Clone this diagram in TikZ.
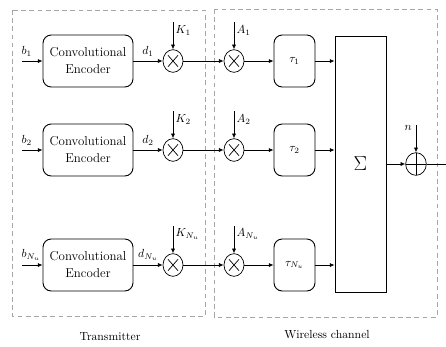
\documentclass[tikz,border=0pt]{standalone}
\usepackage{amsmath}
\usepackage{tikz}
\usetikzlibrary{positioning, arrows.meta, calc, shapes.geometric}

\begin{document}
\begin{tikzpicture}[>={Latex[length=4pt,width=3.5pt]}, semithick,
    enc/.style={draw, thick, rounded corners=7pt, minimum width=2.7cm, minimum height=1.56cm, align=center, font=\fontsize{11}{14.5}\selectfont},
    mult/.style={ellipse, draw, minimum width=0.6cm, minimum height=0.68cm, inner sep=0pt,
      path picture={\draw ($(path picture bounding box.north west)!0.25!(path picture bounding box.south east)$) -- ($(path picture bounding box.north west)!0.75!(path picture bounding box.south east)$)
        ($(path picture bounding box.north east)!0.25!(path picture bounding box.south west)$) -- ($(path picture bounding box.north east)!0.75!(path picture bounding box.south west)$);}},
    adder/.style={ellipse, draw, minimum width=0.62cm, minimum height=0.68cm, inner sep=0pt,
      path picture={\draw (path picture bounding box.north) -- (path picture bounding box.south)
        (path picture bounding box.west) -- (path picture bounding box.east);}},
    del/.style={draw, thick, rounded corners=7pt, minimum width=1.23cm, minimum height=1.56cm},
    frame/.style={draw, dash pattern=on 4pt off 3pt, gray!70, thick}]
  \useasboundingbox (0,0) rectangle (13.38,-10.38);

  % dashed frames
  \draw[frame] (0.36,-0.30) rectangle (6.15,-9.48);
  \draw[frame] (6.42,-0.27) rectangle (13.11,-9.51);
  \node (tx) at (3.3,-10.1) {Transmitter};
  \node (ch) at (9.81,-10.05) {Wireless channel};

  % sum and noise
  \node[draw, thick, minimum width=1.53cm, minimum height=7.68cm] (sum) at (10.815,-4.92) {\LARGE $\Sigma$};
  \node[adder] (add) at (12.48,-4.92) {};
  \coordinate (nin) at (12.48,-3.75);
  \coordinate (out) at (13.38,-4.92);
  \draw[->] (sum.east |- add) -- (add);
  \draw (add) -- (out);
  \draw[->] (nin) -- (add);
  \node[left] at ($(nin)+(0,-0.1)$) {$n$};

  % branches
  \foreach \i/\y/\s in {1/-1.83/1, 2/-4.5/2, 3/-7.95/{N_u}} {
    \coordinate (in\i) at (0.66,\y);
    \node[enc] (enc\i) at (2.64,\y) {Convolutional\\Encoder};
    \node[mult] (k\i) at (5.19,\y) {};
    \node[mult] (a\i) at (7.02,\y) {};
    \node[del] (tau\i) at (8.835,\y) {$\tau_{\s}$};
    \coordinate (ktop\i) at ($(k\i)+(0,1.17)$);
    \coordinate (atop\i) at ($(a\i)+(0,1.17)$);
    \draw[->] (in\i) -- (enc\i);
    \node[above right=0pt and -4pt] at (in\i) {$b_{\s}$};
    \draw[->] (enc\i) -- node[above] {$d_{\s}$} (k\i);
    \draw[->] (ktop\i) -- (k\i);
    \node[right, inner sep=2pt] at ($(ktop\i)+(0,-0.25)$) {$K_{\s}$};
    \draw[->] (atop\i) -- (a\i);
    \node[right, inner sep=2pt] at ($(atop\i)+(0,-0.25)$) {$A_{\s}$};
    \draw[->] (k\i) -- (a\i);
    \draw[->] (a\i) -- (tau\i);
    \draw[->] (tau\i) -- (sum.west |- tau\i);
  }
\end{tikzpicture}
\end{document}
